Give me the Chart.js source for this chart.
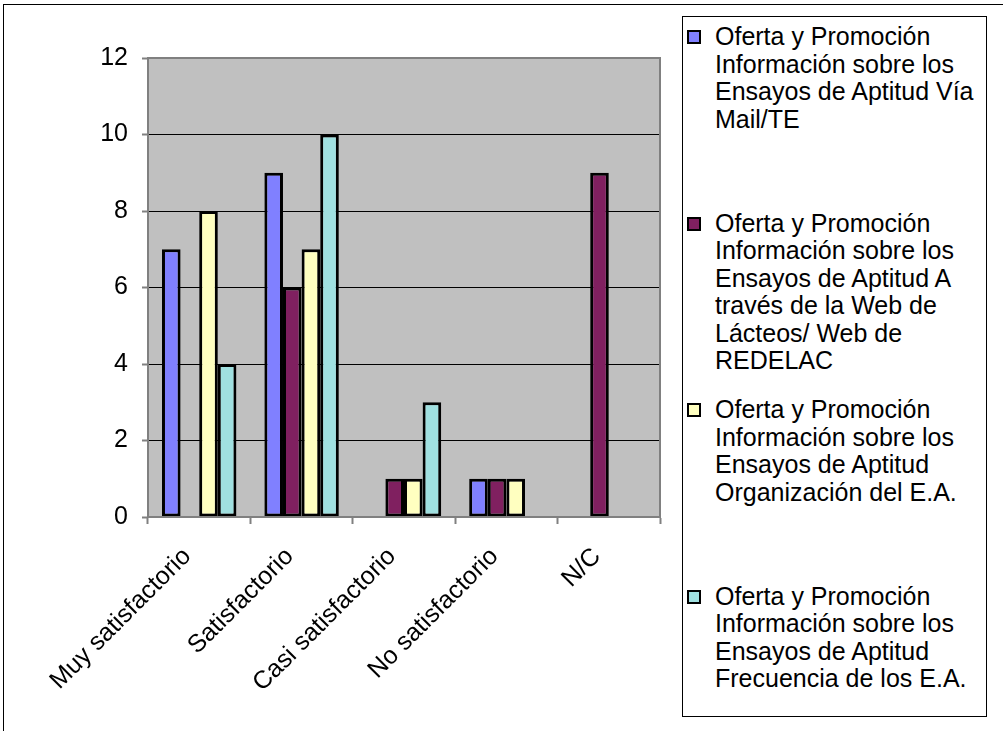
<!DOCTYPE html>
<html>
<head>
<meta charset="utf-8">
<script src="https://cdn.jsdelivr.net/npm/chart.js@4"></script>
<style>
  body { margin: 0; background: #fff; }
  #wrap { position: relative; width: 1003px; height: 731px; overflow: hidden; font-family: "Liberation Sans", Arial, sans-serif; }
  #frame { position: absolute; left: 3px; top: 4px; right: -10px; bottom: -10px; border-top: 1px solid #000; border-left: 1px solid #000; }
  #chart { position: absolute; left: 0; top: 0; }
  #legend { position: absolute; left: 682px; top: 16px; width: 303px; height: 699px; border: 1px solid #000; background: #fff; }
  .item { position: absolute; left: 0; width: 100%; }
  .box { position: absolute; left: 4px; top: 7px; width: 10px; height: 10px; border: 2px solid #000; }
  .txt { position: absolute; left: 32px; width: 262px; font-size: 25px; line-height: 27.5px; color: #000; }
</style>
</head>
<body>
<div id="wrap">
  <canvas id="chart" width="1003" height="731"></canvas>
  <div id="frame"></div>
  <div id="legend"></div>
</div>
<script>
const categories = ["Muy satisfactorio", "Satisfactorio", "Casi satisfactorio", "No satisfactorio", "N/C"];
const seriesNames = [
  "Oferta y Promoción Información sobre los Ensayos de Aptitud Vía Mail/TE",
  "Oferta y Promoción Información sobre los Ensayos de Aptitud A través de la Web de Lácteos/ Web de REDELAC",
  "Oferta y Promoción Información sobre los Ensayos de Aptitud Organización del E.A.",
  "Oferta y Promoción Información sobre los Ensayos de Aptitud Frecuencia de los E.A."
];
const viaMail = [7, 9, 0, 1, 0];
const viaWeb = [0, 6, 1, 1, 9];
const organizacion = [8, 7, 1, 1, 0];
const frecuencia = [4, 10, 3, 0, 0];
const colors = ["#8080FF", "#802060", "#FFFFC0", "#A0E0E0"];

const plotFrame = {
  id: "plotFrame",
  beforeDraw(chart) {
    const { ctx, chartArea: a } = chart;
    ctx.save();
    ctx.fillStyle = "#C0C0C0";
    ctx.fillRect(a.left, a.top, a.right - a.left, a.bottom - a.top);
    ctx.restore();
  },
  afterDatasetsDraw(chart) {
    const { ctx, chartArea: a } = chart;
    ctx.save();
    ctx.strokeStyle = "#808080";
    ctx.lineWidth = 2;
    ctx.strokeRect(a.left, a.top, a.right - a.left, a.bottom - a.top);
    ctx.restore();
  }
};

const datasets = [viaMail, viaWeb, organizacion, frecuencia].map((data, i) => ({
  label: seriesNames[i],
  data,
  backgroundColor: colors[i],
  borderColor: "#000",
  borderWidth: (c) => (c.raw === 0 ? 0 : 3),
  borderSkipped: false,
  categoryPercentage: 0.727,
  barPercentage: 1.0
}));

const font = { family: "'Liberation Sans', Arial, sans-serif", size: 25 };

const chart = new Chart(document.getElementById("chart"), {
  type: "bar",
  data: { labels: categories, datasets },
  options: {
    responsive: false,
    animation: false,
    layout: { padding: { left: 0, top: 58, right: 343, bottom: 0 } },
    plugins: { legend: { display: false }, tooltip: { enabled: false } },
    scales: {
      x: {
        afterFit: (s) => { s.height = 214; },
        grid: { drawOnChartArea: false, tickLength: 7, tickColor: "#808080", tickWidth: 2 },
        border: { color: "#808080", width: 2 },
        ticks: { color: "#000", font, minRotation: 45, maxRotation: 45, autoSkip: false, padding: 18, labelOffset: -12 }
      },
      y: {
        min: 0,
        max: 12,
        afterFit: (s) => { s.width = 148; },
        grid: { color: "#000", lineWidth: 1, tickLength: 6, tickColor: "#808080", tickWidth: 2 },
        border: { color: "#808080", width: 2 },
        ticks: { stepSize: 2, color: "#000", font, padding: 14 }
      }
    }
  },
  plugins: [plotFrame]
});

const legend = document.getElementById("legend");
chart.data.datasets.forEach((ds, i) => {
  const item = document.createElement("div");
  item.className = "item";
  item.style.top = (6 + i * 186.5) + "px";
  const box = document.createElement("div");
  box.className = "box";
  box.style.background = ds.backgroundColor;
  const txt = document.createElement("div");
  txt.className = "txt";
  txt.textContent = ds.label;
  item.appendChild(box);
  item.appendChild(txt);
  legend.appendChild(item);
});
</script>
</body>
</html>
